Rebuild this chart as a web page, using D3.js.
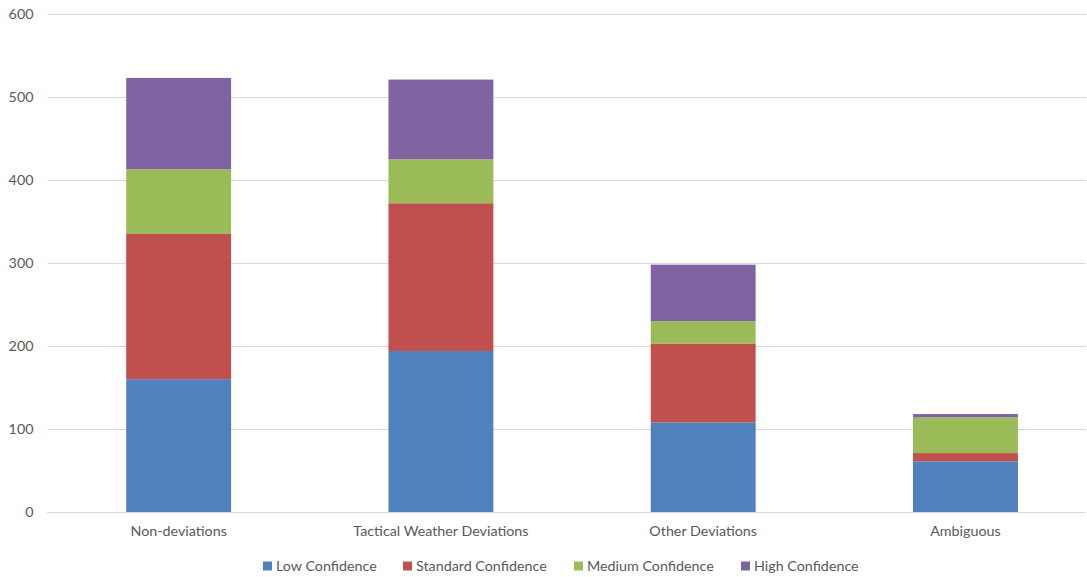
<!DOCTYPE html>
<html>
<head>
<meta charset="utf-8">
<script src="https://cdn.jsdelivr.net/npm/d3@7"></script>
<style>
  body { margin: 0; background: #fff; }
  svg text { font-family: Lato, "Open Sans", sans-serif; fill: #595959; }
</style>
</head>
<body>
<svg id="chart" width="1087" height="577"></svg>
<script>
// Flight categories along the x axis
const categories = ["Non-deviations", "Tactical Weather Deviations", "Other Deviations", "Ambiguous"];
// Stacked series, bottom to top
const seriesNames = ["Low Confidence", "Standard Confidence", "Medium Confidence", "High Confidence"];
const lowConfidence = [160, 194, 108, 61];
const standardConfidence = [175, 178, 95, 10];
const mediumConfidence = [78, 53, 27, 43];
const highConfidence = [110, 96, 68, 4];
const yTicks = [0, 100, 200, 300, 400, 500, 600];
const colors = ["#4F81BD", "#C0504D", "#9BBB59", "#8064A2"];

const seriesValues = [lowConfidence, standardConfidence, mediumConfidence, highConfidence];
const rows = categories.map((c, i) => {
  const r = { category: c };
  seriesNames.forEach((s, k) => { r[s] = seriesValues[k][i]; });
  return r;
});

const svg = d3.select("#chart");
const W = 1087, H = 577;
const plotLeft = 47.5, plotRight = 1086, plotTop = 14, plotBottom = 512;
const fontSize = 14.3;

// Band layout spans a little past the right edge of the gridlines
const x = d3.scaleBand().domain(categories)
  .range([plotLeft, 1096.6])
  .paddingInner(0.6).paddingOuter(0.3);
const y = d3.scaleLinear().domain([0, 600]).range([plotBottom, plotTop]);

// Horizontal gridlines and value labels
const yAxis = d3.axisLeft(y).tickValues(yTicks).tickSize(-(plotRight - plotLeft)).tickPadding(14);
const gy = svg.append("g").attr("transform", `translate(${plotLeft},0)`).call(yAxis);
gy.select(".domain").remove();
gy.selectAll(".tick line").attr("stroke", "#d9d9d9").attr("stroke-width", 1);
gy.selectAll(".tick text").attr("font-size", fontSize).style("fill", "#595959")
  .style("font-family", "Lato, sans-serif");

// Stacked bars
const stack = d3.stack().keys(seriesNames);
const layers = stack(rows);
svg.append("g").selectAll("g").data(layers).join("g")
  .attr("fill", (d, i) => colors[i])
  .selectAll("rect").data(d => d).join("rect")
  .attr("x", d => x(d.data.category))
  .attr("width", x.bandwidth())
  .attr("y", d => y(d[1]))
  .attr("height", d => y(d[0]) - y(d[1]));

// Category axis
const xAxis = d3.axisBottom(x).tickSize(0).tickPadding(14);
const gx = svg.append("g").attr("transform", `translate(0,${y(0)})`).call(xAxis);
gx.select(".domain").remove();
gx.selectAll(".tick text").attr("font-size", fontSize).style("fill", "#595959")
  .style("font-family", "Lato, sans-serif");
svg.append("line").attr("x1", plotLeft).attr("x2", plotRight)
  .attr("y1", y(0) + 0.5).attr("y2", y(0) + 0.5).attr("stroke", "#d9d9d9");

// Legend
const legendX = [263, 403, 574, 741];
const legend = svg.append("g").attr("transform", "translate(0,566)");
seriesNames.forEach((s, i) => {
  legend.append("rect").attr("x", legendX[i]).attr("y", -4.5).attr("width", 9).attr("height", 9).attr("fill", colors[i]);
  legend.append("text").attr("x", legendX[i] + 13).attr("y", 0).attr("dy", "0.35em")
    .attr("font-size", fontSize).text(s);
});
</script>
</body>
</html>
